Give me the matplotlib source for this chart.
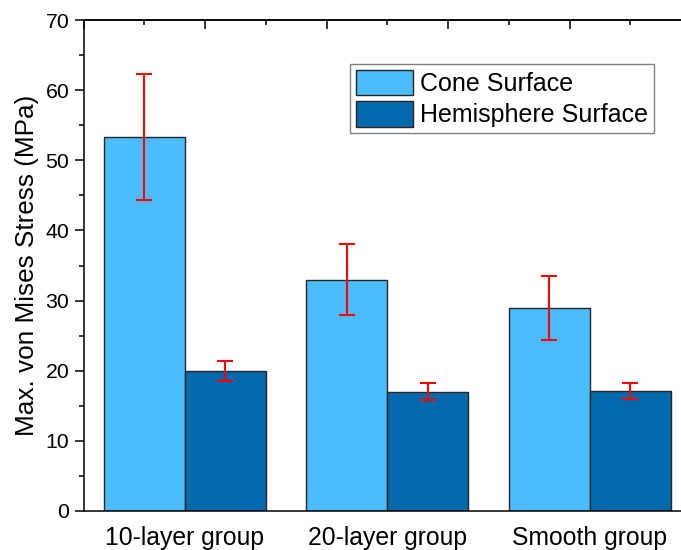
import numpy as np
import matplotlib
matplotlib.use("Agg")
import matplotlib.pyplot as plt
from matplotlib.ticker import MultipleLocator

plt.rcParams['font.family'] = ['Liberation Sans', 'DejaVu Sans']

groups = ["10-layer group", "20-layer group", "Smooth group"]
series_names = ["Cone Surface", "Hemisphere Surface"]
cone_vals = [53.3, 33.0, 29.0]
cone_err = [9.0, 5.1, 4.55]
hemi_vals = [20.0, 17.0, 17.1]
hemi_err = [1.45, 1.2, 1.2]

cone_color = "#4CBCFD"
hemi_color = "#0369AC"

fig = plt.figure(figsize=(6.81, 5.5), dpi=100)
W, H = 681, 550
x0, x1, ytop, ybot = 83.75, 691.0, 20.0, 511.0
ax = fig.add_axes([x0 / W, (H - ybot) / H, (x1 - x0) / W, (ybot - ytop) / H])

x = np.arange(len(groups))
bw = 0.4
ax.bar(x - bw / 2, cone_vals, bw, color=cone_color, edgecolor="#262626", linewidth=1.0,
       label=series_names[0], zorder=2)
ax.bar(x + bw / 2, hemi_vals, bw, color=hemi_color, edgecolor="#262626", linewidth=1.0,
       label=series_names[1], zorder=2)
ax.errorbar(x - bw / 2, cone_vals, yerr=cone_err, fmt='none', ecolor='#FF0000',
            elinewidth=1.5, capsize=6, capthick=1.5, zorder=3)
ax.errorbar(x + bw / 2, hemi_vals, yerr=hemi_err, fmt='none', ecolor='#FF0000',
            elinewidth=1.5, capsize=6, capthick=1.5, zorder=3)

ax.set_xlim(-0.5, 2.5)
ax.set_ylim(0, 70)
ax.set_xticks(x)
ax.set_xticklabels(groups, fontsize=17.8)
ax.tick_params(axis='x', which='both', length=0, pad=11)
ax.yaxis.set_major_locator(MultipleLocator(10))
ax.yaxis.set_minor_locator(MultipleLocator(5))
ax.tick_params(axis='y', which='major', direction='out', length=6.5, width=1.1,
               labelsize=15.3, pad=4)
ax.tick_params(axis='y', which='minor', direction='out', length=3.5, width=1.1)
for s in ax.spines.values():
    s.set_linewidth(1.1)

ax.set_ylabel("Max. von Mises Stress (MPa)", fontsize=18.8)
ax.yaxis.set_label_coords(-0.073, 0.5)

top = ax.secondary_xaxis('top')
top.set_xticks(np.arange(-0.5, 2.51, 0.6))
top.set_xticks(np.arange(-0.2, 2.51, 0.6), minor=True)
top.set_xticklabels([])
top.tick_params(which='major', direction='in', length=6.5, width=1.1)
top.tick_params(which='minor', direction='in', length=3.5, width=1.1)
top.spines['top'].set_linewidth(1.1)

leg = ax.legend(loc='upper left', bbox_to_anchor=(0.4385, 0.910), borderaxespad=0,
                fontsize=18, handlelength=2.3, handleheight=1.2, labelspacing=0.2,
                handletextpad=0.28, borderpad=0.22, fancybox=False, framealpha=1,
                edgecolor='#808080')
leg.get_frame().set_linewidth(1.0)

fig.savefig("out.png", dpi=100)
